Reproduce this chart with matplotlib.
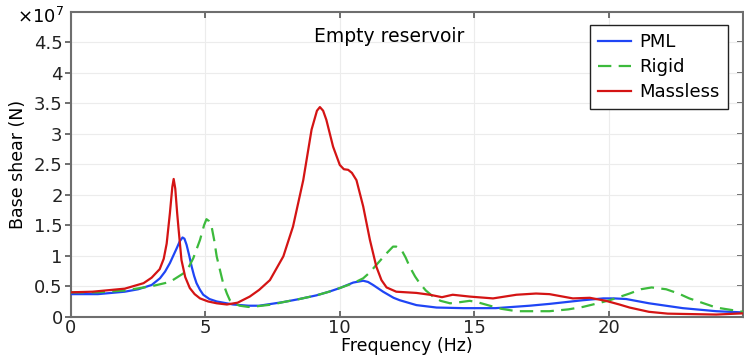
import matplotlib
matplotlib.use("Agg")
import matplotlib.pyplot as plt
from matplotlib.ticker import FormatStrFormatter

# Base shear in units of 1e7 N vs frequency (Hz)
f_pml = [0.0, 1.0, 2.0, 2.5, 3.0, 3.31, 3.5, 3.68, 3.93, 4.05, 4.15, 4.22, 4.3,
         4.4, 4.49, 4.58, 4.67, 4.8, 4.92, 5.15, 5.42, 6.03, 6.6, 7.0, 7.9,
         8.5, 9.13, 9.6, 10.0, 10.5, 10.87, 11.05, 11.24, 11.61, 12.0, 12.23,
         12.85, 13.6, 14.6, 15.8, 17.06, 17.8, 19.04, 19.8, 20.2, 20.65, 21.5,
         22.76, 24.0, 25.0]
pml = [0.37, 0.37, 0.41, 0.45, 0.52, 0.63, 0.74, 0.88, 1.12, 1.24, 1.30, 1.28,
       1.18, 1.00, 0.82, 0.67, 0.55, 0.44, 0.36, 0.29, 0.25, 0.20, 0.18, 0.18,
       0.24, 0.29, 0.35, 0.41, 0.47, 0.56, 0.59, 0.57, 0.52, 0.41, 0.31, 0.27,
       0.19, 0.15, 0.14, 0.14, 0.18, 0.21, 0.27, 0.30, 0.30, 0.29, 0.22, 0.14,
       0.09, 0.07]

f_rigid = [0.0, 1.0, 2.0, 3.0, 3.68, 4.18, 4.4, 4.55, 4.8, 4.95, 5.04, 5.13,
           5.23, 5.33, 5.42, 5.55, 5.66, 5.8, 5.91, 6.1, 6.28, 6.6, 6.9, 7.5,
           7.9, 8.5, 9.13, 9.6, 10.0, 10.5, 10.87, 11.1, 11.36, 11.74, 11.98,
           12.1, 12.29, 12.45, 12.6, 12.8, 12.97, 13.2, 13.47, 13.75, 14.1,
           14.5, 14.83, 15.1, 15.58, 16.0, 16.57, 17.3, 17.8, 18.5, 19.04, 19.6,
           20.04, 20.78, 21.2, 21.6, 22.14, 22.6, 23.0, 24.0, 25.0]
rigid = [0.40, 0.40, 0.43, 0.50, 0.57, 0.71, 0.83, 0.96, 1.26, 1.50, 1.60, 1.57,
         1.48, 1.25, 0.99, 0.75, 0.55, 0.38, 0.27, 0.21, 0.18, 0.16, 0.17, 0.20,
         0.24, 0.29, 0.35, 0.41, 0.47, 0.55, 0.63, 0.72, 0.85, 1.04, 1.15, 1.15,
         1.10, 0.97, 0.82, 0.66, 0.55, 0.43, 0.33, 0.26, 0.22, 0.24, 0.26, 0.24,
         0.18, 0.13, 0.09, 0.09, 0.09, 0.12, 0.16, 0.22, 0.27, 0.38, 0.45, 0.48,
         0.45, 0.38, 0.30, 0.15, 0.08]

f_massless = [0.0, 0.8, 2.0, 2.7, 3.0, 3.3, 3.45, 3.56, 3.68, 3.77, 3.82, 3.88,
              3.95, 4.0, 4.11, 4.25, 4.42, 4.6, 4.8, 5.1, 5.42, 5.8, 6.2, 6.65,
              7.0, 7.4, 7.9, 8.26, 8.64, 8.95, 9.15, 9.26, 9.38, 9.5, 9.75,
              10.0, 10.15, 10.31, 10.45, 10.62, 10.87, 11.12, 11.36, 11.55,
              11.74, 12.1, 12.85, 13.35, 13.8, 14.2, 14.83, 15.7, 16.57, 17.3,
              17.8, 18.67, 19.3, 19.9, 20.4, 20.78, 21.5, 22.2, 22.76, 24.0, 25.0]
massless = [0.40, 0.41, 0.46, 0.55, 0.64, 0.78, 0.95, 1.20, 1.70, 2.13, 2.26,
            2.10, 1.70, 1.45, 0.93, 0.65, 0.47, 0.37, 0.30, 0.25, 0.22, 0.20,
            0.23, 0.33, 0.44, 0.60, 0.99, 1.48, 2.24, 3.07, 3.38, 3.44, 3.38,
            3.23, 2.79, 2.49, 2.42, 2.41, 2.36, 2.24, 1.81, 1.26, 0.82, 0.60,
            0.48, 0.41, 0.39, 0.36, 0.32, 0.36, 0.33, 0.30, 0.36, 0.38, 0.37,
            0.30, 0.31, 0.26, 0.20, 0.15, 0.08, 0.05, 0.045, 0.035, 0.055]

x_ticks = [0, 5, 10, 15, 20]
y_ticks = [0, 0.5, 1, 1.5, 2, 2.5, 3, 3.5, 4, 4.5]

plt.rcParams["font.family"] = "DejaVu Sans"

fig = plt.figure(figsize=(7.44, 3.58), dpi=100)
ax = fig.add_axes([0.0954, 0.1154, 0.9033, 0.8511])

ax.plot(f_pml, pml, color="#1f45f5", lw=1.6, label="PML", zorder=3)
ax.plot(f_rigid, rigid, color="#3cba3c", lw=1.6, ls=(0, (6, 3.3)), label="Rigid", zorder=3)
ax.plot(f_massless, massless, color="#d41414", lw=1.6, label="Massless", zorder=4)

ax.set_xlim(0, 25)
ax.set_ylim(0, 5)
ax.set_xticks(x_ticks)
ax.set_yticks(y_ticks)
ax.yaxis.set_major_formatter(FormatStrFormatter("%g"))
ax.tick_params(labelsize=13, colors="#222222", length=4, width=1.2)
ax.tick_params(axis="x", direction="in", top=True, color="#555555", pad=2)
ax.tick_params(axis="y", direction="out", color="#555555", pad=2)
ax.tick_params(axis="y", which="both", right=False)
ax.grid(True, color="#ececec", lw=0.8)
for s in ax.spines.values():
    s.set_color("#6e6e6e")
    s.set_linewidth(1.5)

# inward ticks on the right side
ax2 = ax.secondary_yaxis("right")
ax2.set_yticks(y_ticks)
ax2.tick_params(direction="in", length=4, width=1.2, color="#555555", labelright=False)

ax.set_xlabel("Frequency (Hz)", fontsize=12.5, labelpad=-0.5)
ax.set_ylabel("Base shear (N)", fontsize=12.5, labelpad=5)
ax.text(-0.081, 0.985, r"$\times10^{7}$", transform=ax.transAxes, fontsize=13,
        ha="left", va="center")
ax.text(0.473, 0.92, "Empty reservoir", transform=ax.transAxes, fontsize=13.5,
        ha="center", va="center")

leg = ax.legend(loc="upper right", bbox_to_anchor=(0.978, 0.957), fontsize=13,
                fancybox=False, edgecolor="#222222", framealpha=1,
                handlelength=1.8, handletextpad=0.5, labelspacing=0.38,
                borderpad=0.45, borderaxespad=0)
leg.get_frame().set_linewidth(1.0)

fig.savefig("out.png", dpi=100)
